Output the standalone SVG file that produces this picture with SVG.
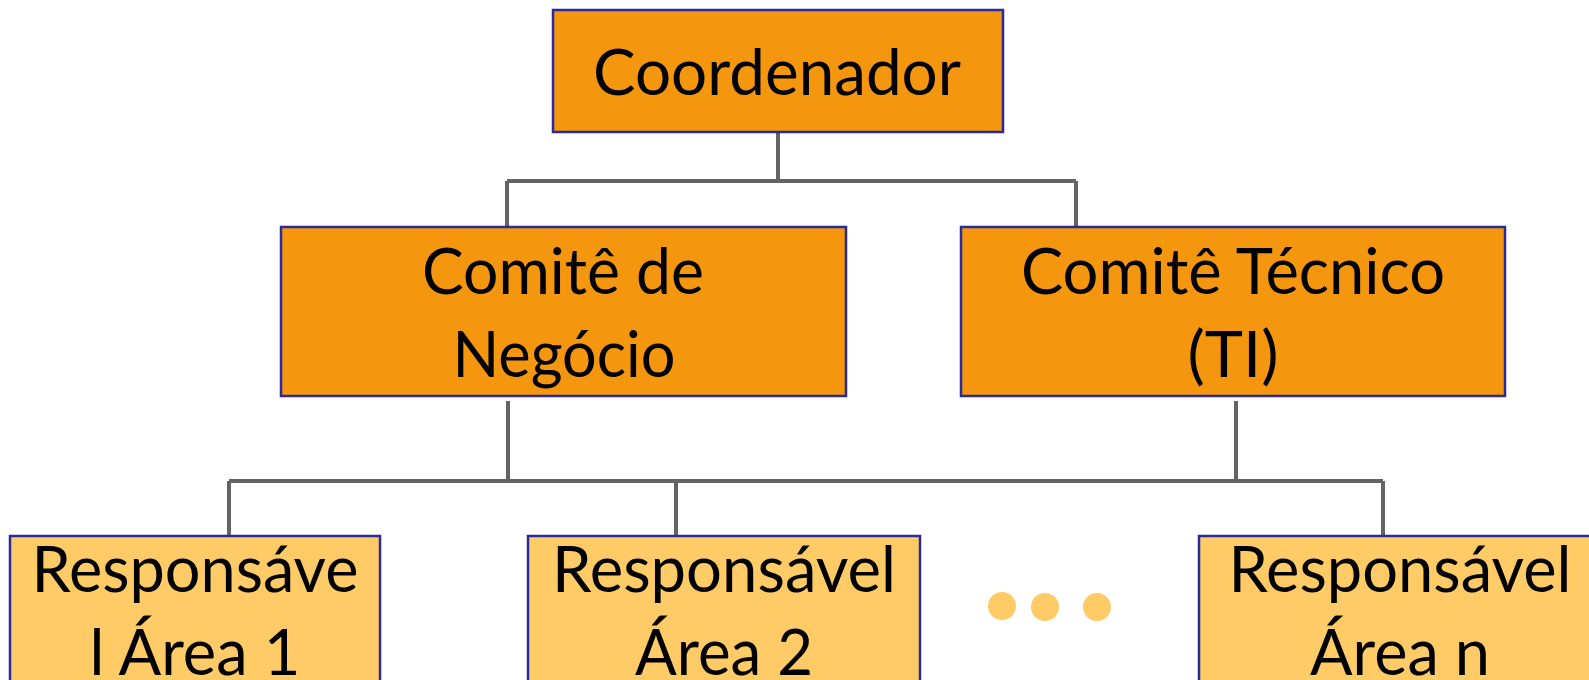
<svg xmlns="http://www.w3.org/2000/svg" width="1589" height="680" viewBox="0 0 1589 680">
<style>
.top{fill:#F4970F;stroke:#2A2A9A;stroke-width:2.5}
.leaf{fill:#FECB66;stroke:#2A2A9A;stroke-width:2.5}
.t{font-family:Lato,"Liberation Sans",sans-serif;font-size:64px;fill:#000;text-anchor:middle}
.c{fill:none;stroke:#646464;stroke-width:4}
.dot{fill:#FECB66}
</style>
<g id="connectors">
<path class="c" d="M778 132V181M507 181H1076M507 181V227M1076 181V227"/>
<path class="c" d="M508 401V481M1236 401V481M229 481H1383M229 481V536M676 481V536M1383 481V536"/>
</g>
<g id="coordenador">
<rect class="top" x="553" y="10" width="450" height="122"/>
<text class="t" x="777" y="95" textLength="368" lengthAdjust="spacingAndGlyphs">Coordenador</text>
</g>
<g id="comite-negocio">
<rect class="top" x="281" y="227" width="565" height="169"/>
<text class="t" x="563" y="294" textLength="282" lengthAdjust="spacingAndGlyphs">Comitê de</text>
<text class="t" x="564" y="377" textLength="223" lengthAdjust="spacingAndGlyphs">Negócio</text>
</g>
<g id="comite-tecnico">
<rect class="top" x="961" y="227" width="544" height="169"/>
<text class="t" x="1233" y="294" textLength="424" lengthAdjust="spacingAndGlyphs">Comitê Técnico</text>
<text class="t" x="1233" y="377" textLength="91" lengthAdjust="spacingAndGlyphs">(TI)</text>
</g>
<g id="resp-1">
<rect class="leaf" x="10" y="536" width="370" height="160"/>
<text class="t" x="195" y="592" textLength="327" lengthAdjust="spacingAndGlyphs">Responsáve</text>
<text class="t" x="195" y="675" textLength="211" lengthAdjust="spacingAndGlyphs">l Área 1</text>
</g>
<g id="resp-2">
<rect class="leaf" x="528" y="536" width="392" height="160"/>
<text class="t" x="724" y="592" textLength="344" lengthAdjust="spacingAndGlyphs">Responsável</text>
<text class="t" x="724" y="675" textLength="178" lengthAdjust="spacingAndGlyphs">Área 2</text>
</g>
<g id="ellipsis">
<circle class="dot" cx="1002" cy="606" r="14"/>
<circle class="dot" cx="1045" cy="607" r="14"/>
<circle class="dot" cx="1097" cy="607" r="14"/>
</g>
<g id="resp-n">
<rect class="leaf" x="1199" y="536" width="400" height="160"/>
<text class="t" x="1400" y="592" textLength="343" lengthAdjust="spacingAndGlyphs">Responsável</text>
<text class="t" x="1400" y="675" textLength="180" lengthAdjust="spacingAndGlyphs">Área n</text>
</g>
</svg>
